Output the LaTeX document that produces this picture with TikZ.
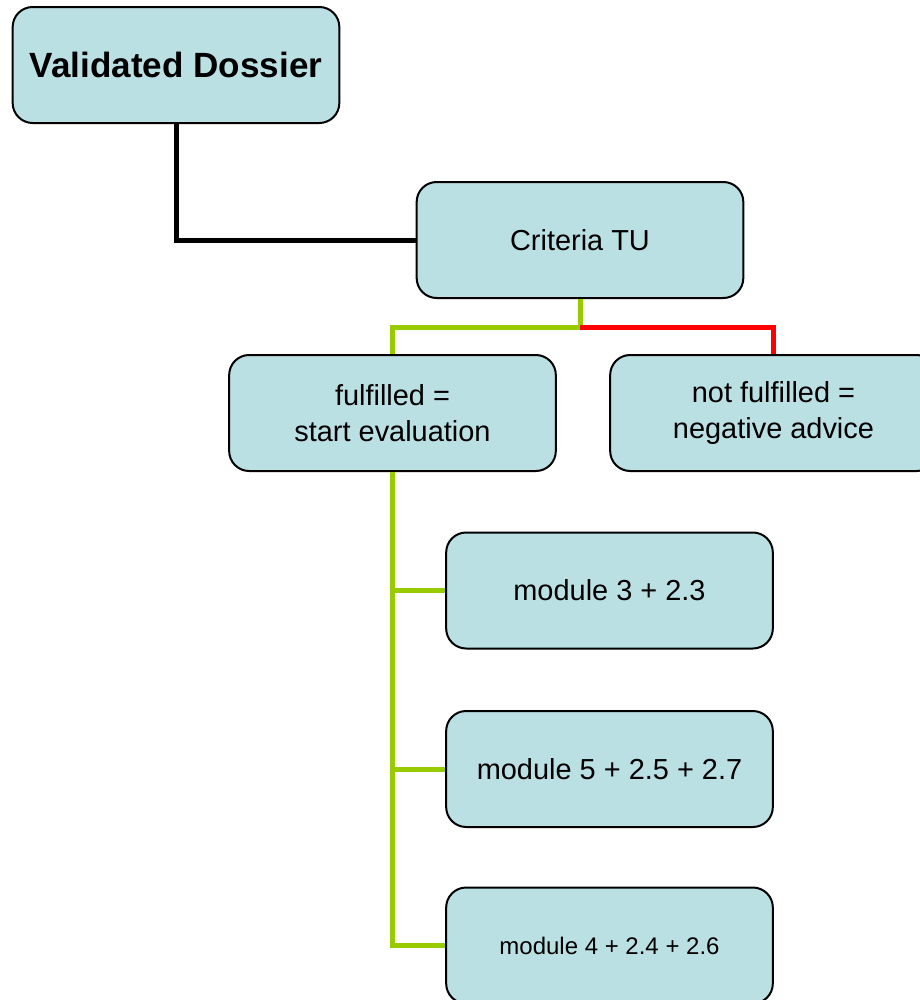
\documentclass[tikz,border=0pt]{standalone}
\usepackage{fontspec}
\setmainfont{Liberation Sans}
\definecolor{boxfill}{HTML}{BBE0E3}
\definecolor{yesgreen}{HTML}{99CC00}
\definecolor{nored}{HTML}{FF0000}
\tikzset{
    stepbox/.style={draw=black, line width=1.5pt, fill=boxfill, rounded corners=15pt,
        minimum width=245pt, minimum height=87pt, align=center,
        font=\fontsize{21.7}{26.5}\selectfont},
    link/.style={line width=3.75pt}
}
\begin{document}
\begin{tikzpicture}[x=0.75pt, y=-0.75pt]
            \useasboundingbox (0,0) rectangle (920,1000);
            \node[stepbox, font=\fontsize{26.3}{31}\selectfont\bfseries] (dossier) at (176,65) {Validated Dossier};
            \node[stepbox] (criteria) at (580,240) {Criteria TU};
            \node[stepbox] (yes) at (392.5,413) {fulfilled =\\start evaluation};
            \node[stepbox] (no) at (773.5,413) {not fulfilled =\\negative advice};
            \node[stepbox] (mthree) at (609.5,590.5) {module 3 + 2.3};
            \node[stepbox] (mfive) at (609.5,769) {module 5 + 2.5 + 2.7};
            \node[stepbox, font=\fontsize{18}{21}\selectfont] (mfour) at (609.5,945.5) {module 4 + 2.4 + 2.6};
            \coordinate (split) at ([yshift=-21pt]criteria.south);
            \draw[link, black] (dossier.south) |- (criteria.west);
            \draw[link, yesgreen] (criteria.south) -- (split) -| (yes.north);
            \draw[link, nored] (split) -| (no.north);
            \draw[link, yesgreen] (yes.south) -- (yes.south |- mfour.west) -- (mfour.west);
            \draw[link, yesgreen] (yes.south |- mthree.west) -- (mthree.west);
            \draw[link, yesgreen] (yes.south |- mfive.west) -- (mfive.west);
        \end{tikzpicture}
\end{document}
